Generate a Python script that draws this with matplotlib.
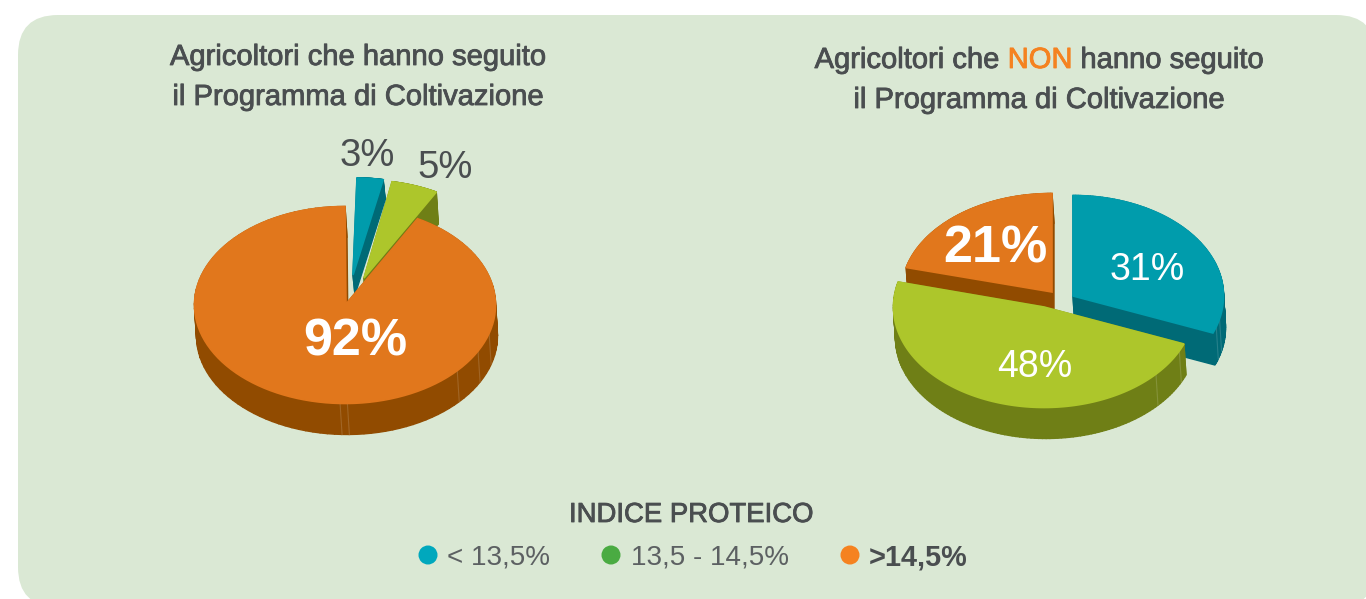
import numpy as np
import matplotlib
matplotlib.use("Agg")
import matplotlib.pyplot as plt
from matplotlib.patches import FancyBboxPatch, Polygon, Circle
import matplotlib.patheffects as pe

# data
left_values = [3, 5, 92]
right_values = [31, 48, 21]
left_labels = ["3%", "5%", "92%"]
right_labels = ["31%", "48%", "21%"]
legend_labels = ["< 13,5%", "13,5 - 14,5%", ">14,5%"]
title_left = ["Agricoltori che hanno seguito", "il Programma di Coltivazione"]
title_right = [("Agricoltori che ", "NON", " hanno seguito"), "il Programma di Coltivazione"]
legend_title = "INDICE PROTEICO"

# colours: blue, green, orange
top_colors = ["#009cac", "#adc62b", "#e1771c"]
side_colors = ["#006a76", "#6f7f16", "#914b00"]
legend_colors = ["#00a8bd", "#4aab42", "#f58220"]
bg = "#dae8d4"
text_col = "#4a4e50"
light_col = "#5c6062"

plt.rcParams["font.family"] = ["Liberation Sans", "DejaVu Sans"]

fig = plt.figure(figsize=(13.66, 5.99), dpi=100)
ax = fig.add_axes([0, 0, 1, 1])
ax.set_xlim(0, 1366)
ax.set_ylim(599, 0)
ax.axis("off")

ax.add_patch(FancyBboxPatch((18, 15), 1358, 592, boxstyle="round,pad=0,rounding_size=40",
                            fc=bg, ec="none"))


def slice_xy(cx, cy, start, end, rx=151, ry=100, skew=0):
    t = np.radians(np.linspace(start, end, 120))
    x = cx + rx * np.sin(t) + skew * np.cos(t)
    y = cy - ry * np.cos(t)
    return np.column_stack([np.r_[cx, x], np.r_[cy, y]])


def draw_slice(xy, i, depth, seams=(), z=2):
    # walls first, then the top face
    n = len(xy)
    for k in range(n):
        a, b = xy[k], xy[(k + 1) % n]
        ax.add_patch(Polygon([a, b, b + [2, depth], a + [2, depth]], fc=side_colors[i],
                             ec=side_colors[i], lw=1.0, zorder=z))
    ax.add_patch(Polygon(xy, fc=top_colors[i], ec=top_colors[i], lw=1.2, zorder=z + 0.1))
    for p in seams:
        ax.plot([p[0], p[0] + 2], [p[1], p[1] + depth], color="#ffffff", alpha=0.15, lw=0.8, zorder=z + 0.05)


def angles(values):
    edges = np.r_[0, np.cumsum(values)] * 3.6
    return edges[:-1], edges[1:]


# left pie
s, e = angles(left_values)
draw_slice(slice_xy(364, 278, s[1], e[1], rx=150, ry=98), 1, 32, z=2)
draw_slice(slice_xy(353, 275, s[0], e[0], rx=140, ry=97, skew=4), 0, 20, z=3)
xy = slice_xy(345, 305, s[2], e[2], rx=150.5, ry=98.5)
xy[0] = [346, 304]
seams = [xy[1 + int((a - s[2]) / (e[2] - s[2]) * 119)] for a in [109, 120, 134, 181, 183]]
draw_slice(xy, 2, 31, seams, z=4)

# right pie
s, e = angles(right_values)
draw_slice(slice_xy(1052, 292, s[2], e[2], rx=150.5, ry=98.5), 2, 30, z=2)
xy = slice_xy(1073, 296, s[0], e[0], rx=150.5, ry=100.5)
seams = [xy[1 + int((a - s[0]) / (e[0] - s[0]) * 119)] for a in [104, 108]]
draw_slice(xy, 0, 32, seams, z=3)
xy = slice_xy(1044, 307, s[1], e[1], rx=150.5, ry=100.5)
seams = [xy[1 + int((a - s[1]) / (e[1] - s[1]) * 119)] for a in [117, 132]]
draw_slice(xy, 1, 31, seams, z=4)

medium = [pe.withStroke(linewidth=0.6, foreground=text_col)]

# titles
for txt, y in zip(title_left, [57, 97]):
    ax.text(358, y, txt, fontsize=21, color=text_col, ha="center", va="center", path_effects=medium)
ax.text(1039, 100, title_right[1], fontsize=21, color=text_col, ha="center", va="center", path_effects=medium)

r = fig.canvas.get_renderer()
parts = title_right[0]
cols = [text_col, "#f58220", text_col]
ts = [ax.text(0, 60, p, fontsize=21, color=c, ha="left", va="center",
              path_effects=[pe.withStroke(linewidth=0.6, foreground=c)]) for p, c in zip(parts, cols)]
ws = [t.get_window_extent(r).width for t in ts]
x = 1039 - sum(ws) / 2
for t, w in zip(ts, ws):
    t.set_x(x)
    x += w

# pie labels
lab = dict(ha="center", va="center", zorder=10)
ax.text(367, 156, left_labels[0], fontsize=27.5, color=text_col, **lab)
ax.text(445, 168, left_labels[1], fontsize=27.5, color=text_col, **lab)
ax.text(355, 342, left_labels[2], fontsize=37.5, color="white", weight="bold", **lab)
ax.text(1147, 270, right_labels[0], fontsize=27, color="white", **lab)
ax.text(1035, 367, right_labels[1], fontsize=27, color="white", **lab)
ax.text(995, 249, right_labels[2], fontsize=37.5, color="white", weight="bold", **lab)

# legend
ax.text(691, 515, legend_title, fontsize=19.8, color=text_col, ha="center", va="center", path_effects=medium)
for px, tx, c, l, w, col, fs in zip([428, 611, 850], [447, 631, 869], legend_colors, legend_labels,
                                    ["normal", "normal", "bold"], [light_col, light_col, text_col],
                                    [20, 20, 20.8]):
    ax.add_patch(Circle((px, 555), 9.5, fc=c, ec="none"))
    ax.text(tx, 557, l, fontsize=fs, color=col, ha="left", va="center", weight=w)

fig.savefig("out.png", dpi=100, facecolor="white")
